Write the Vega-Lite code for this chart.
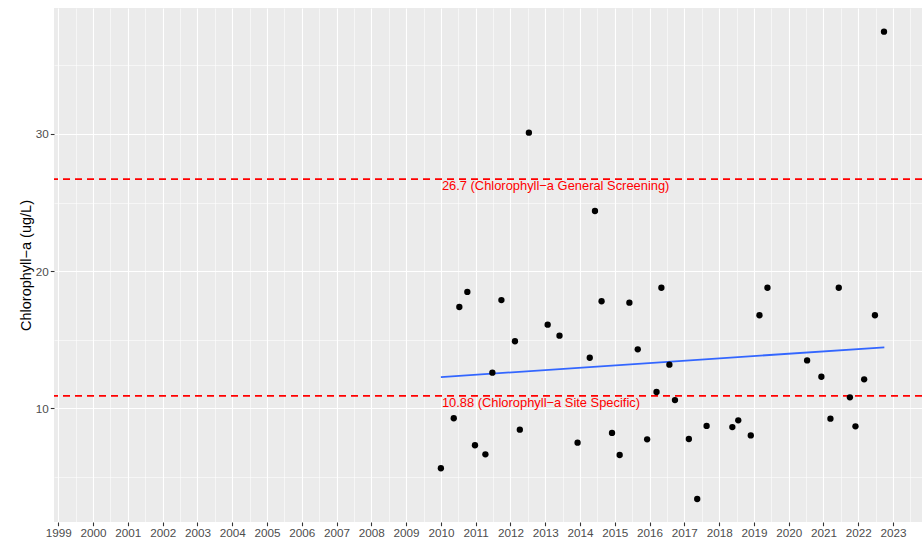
{
  "$schema": "https://vega.github.io/schema/vega-lite/v6.json",
  "width": 868,
  "height": 514,
  "autosize": {"type": "none"},
  "padding": {"left": 54, "top": 8, "right": 0, "bottom": 23},
  "config": {
    "view": {"fill": "#EBEBEB", "stroke": null},
    "font": "Liberation Sans",
    "background": "white"
  },
  "datasets": {
    "obs": [
      {"year": 2010.00, "chla": 5.6},
      {"year": 2010.37, "chla": 9.25},
      {"year": 2010.53, "chla": 17.37},
      {"year": 2010.76, "chla": 18.47},
      {"year": 2010.98, "chla": 7.28},
      {"year": 2011.28, "chla": 6.62},
      {"year": 2011.48, "chla": 12.58},
      {"year": 2011.74, "chla": 17.88},
      {"year": 2012.13, "chla": 14.87},
      {"year": 2012.27, "chla": 8.42},
      {"year": 2012.53, "chla": 30.1},
      {"year": 2013.07, "chla": 16.08},
      {"year": 2013.41, "chla": 15.28},
      {"year": 2013.93, "chla": 7.47},
      {"year": 2014.28, "chla": 13.67},
      {"year": 2014.43, "chla": 24.38},
      {"year": 2014.62, "chla": 17.79},
      {"year": 2014.92, "chla": 8.18},
      {"year": 2015.14, "chla": 6.57},
      {"year": 2015.42, "chla": 17.69},
      {"year": 2015.66, "chla": 14.28},
      {"year": 2015.93, "chla": 7.71},
      {"year": 2016.20, "chla": 11.17},
      {"year": 2016.34, "chla": 18.78},
      {"year": 2016.57, "chla": 13.16},
      {"year": 2016.73, "chla": 10.58},
      {"year": 2017.13, "chla": 7.74},
      {"year": 2017.37, "chla": 3.36},
      {"year": 2017.64, "chla": 8.69},
      {"year": 2018.38, "chla": 8.61},
      {"year": 2018.55, "chla": 9.10},
      {"year": 2018.91, "chla": 8.0},
      {"year": 2019.16, "chla": 16.77},
      {"year": 2019.39, "chla": 18.78},
      {"year": 2020.53, "chla": 13.47},
      {"year": 2020.94, "chla": 12.28},
      {"year": 2021.20, "chla": 9.22},
      {"year": 2021.44, "chla": 18.78},
      {"year": 2021.76, "chla": 10.78},
      {"year": 2021.92, "chla": 8.66},
      {"year": 2022.17, "chla": 12.09},
      {"year": 2022.48, "chla": 16.77},
      {"year": 2022.74, "chla": 37.47}
    ],
    "trend": [
      {"year": 2010.0, "chla": 12.26},
      {"year": 2022.75, "chla": 14.43}
    ],
    "thresholds": [
      {"value": 26.7, "label": "26.7 (Chlorophyll−a General Screening)"},
      {"value": 10.88, "label": "10.88 (Chlorophyll−a Site Specific)"}
    ]
  },
  "resolve": {"axis": {"x": "independent", "y": "independent"}},
  "layer": [
    {
      "data": {"name": "trend"},
      "mark": {"type": "line", "color": "#3366FF", "strokeWidth": 1.8},
      "encoding": {
        "x": {
          "field": "year", "type": "quantitative",
          "scale": {"domain": [1998.876, 2023.833], "nice": false, "zero": false},
          "axis": {
            "orient": "bottom",
            "values": [1999.5, 2000.5, 2001.5, 2002.5, 2003.5, 2004.5, 2005.5, 2006.5, 2007.5, 2008.5, 2009.5, 2010.5, 2011.5, 2012.5, 2013.5, 2014.5, 2015.5, 2016.5, 2017.5, 2018.5, 2019.5, 2020.5, 2021.5, 2022.5, 2023.5],
            "grid": true, "gridColor": "#FFFFFF", "gridWidth": 0.55,
            "labels": false, "ticks": false, "domain": false, "title": null
          }
        },
        "y": {
          "field": "chla", "type": "quantitative",
          "scale": {"domain": [1.679, 39.197], "nice": false, "zero": false},
          "axis": {
            "orient": "left",
            "values": [5, 15, 25, 35],
            "grid": true, "gridColor": "#FFFFFF", "gridWidth": 0.55,
            "labels": false, "ticks": false, "domain": false, "title": null
          }
        }
      }
    },
    {
      "data": {"name": "thresholds"},
      "mark": {"type": "rule", "color": "#FF0000", "strokeDash": [7, 5], "strokeWidth": 1.8},
      "encoding": {
        "y": {"field": "value", "type": "quantitative", "axis": null}
      }
    },
    {
      "data": {"name": "thresholds"},
      "mark": {"type": "text", "align": "left", "baseline": "middle", "dx": 1, "dy": 7, "fontSize": 12.9, "color": "#FF0000", "font": "Liberation Sans"},
      "encoding": {
        "x": {"datum": 2010, "type": "quantitative", "axis": null},
        "y": {"field": "value", "type": "quantitative", "axis": null},
        "text": {"field": "label"}
      }
    },
    {
      "data": {"name": "obs"},
      "mark": {"type": "circle", "color": "#000000", "opacity": 1, "size": 40},
      "encoding": {
        "x": {
          "field": "year", "type": "quantitative",
          "axis": {
            "orient": "bottom",
            "values": [1999, 2000, 2001, 2002, 2003, 2004, 2005, 2006, 2007, 2008, 2009, 2010, 2011, 2012, 2013, 2014, 2015, 2016, 2017, 2018, 2019, 2020, 2021, 2022, 2023],
            "format": "d", "grid": true, "gridColor": "#FFFFFF", "gridWidth": 1.1,
            "domain": false, "tickColor": "#333333", "tickSize": 3.7, "tickWidth": 1.1,
            "labelColor": "#4D4D4D", "labelFontSize": 11.7, "labelFont": "Liberation Sans",
            "labelPadding": 1.5, "labelFlush": false, "labelOverlap": false, "title": null
          }
        },
        "y": {
          "field": "chla", "type": "quantitative",
          "axis": {
            "orient": "left",
            "values": [10, 20, 30],
            "grid": true, "gridColor": "#FFFFFF", "gridWidth": 1.1,
            "domain": false, "tickColor": "#333333", "tickSize": 3.7, "tickWidth": 1.1,
            "labelColor": "#4D4D4D", "labelFontSize": 11.7, "labelFont": "Liberation Sans",
            "labelPadding": 2, "labelOverlap": false,
            "title": "Chlorophyll−a (ug/L)", "titleFontSize": 14.5, "titleFontWeight": "normal",
            "titleColor": "#000000", "titleFont": "Liberation Sans", "titlePadding": 2
          }
        }
      }
    }
  ]
}
